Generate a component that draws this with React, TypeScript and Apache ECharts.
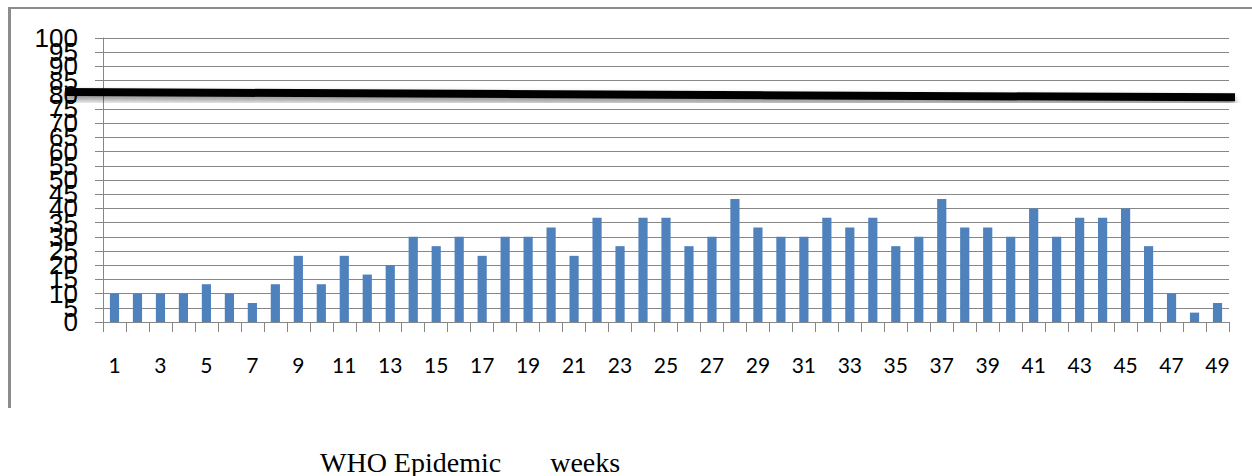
import { useEffect, useRef } from "react";
import * as echarts from "echarts";

// WHO epidemic weeks on the category axis
const weeks = [
  "1", "2", "3", "4", "5", "6", "7", "8", "9", "10",
  "11", "12", "13", "14", "15", "16", "17", "18", "19", "20",
  "21", "22", "23", "24", "25", "26", "27", "28", "29", "30",
  "31", "32", "33", "34", "35", "36", "37", "38", "39", "40",
  "41", "42", "43", "44", "45", "46", "47", "48", "49",
];

// Weekly percentage values
const weeklyValues = [
  10, 10, 10, 10, 13.3, 10, 6.7, 13.3, 23.3, 13.3,
  23.3, 16.7, 20, 30, 26.7, 30, 23.3, 30, 30, 33.3,
  23.3, 36.7, 26.7, 36.7, 36.7, 26.7, 30, 43.3, 33.3, 30,
  30, 36.7, 33.3, 36.7, 26.7, 30, 43.3, 33.3, 33.3, 30,
  40, 30, 36.7, 36.7, 40, 26.7, 10, 3.3, 6.7,
];

// Value axis range and step
const yMin = 0;
const yMax = 100;
const yStep = 5;

// Threshold line drawn across the chart: value at its left and right ends
const thresholdEnds = [81, 79.1];

const xTitle = "WHO Epidemic\u00a0\u00a0\u00a0\u00a0\u00a0\u00a0\u00a0weeks";

const GREY = "#878787";

const yLabelStyle = {
  margin: 25,
  color: "#000",
  fontSize: 26,
  fontFamily: "'Liberation Sans', Arial, sans-serif",
  hideOverlap: false,
};

export default function App() {
  const ref = useRef<HTMLDivElement>(null);

  useEffect(() => {
    if (!ref.current) return;
    const chart = echarts.init(ref.current, null, { renderer: "svg" });
    chart.setOption({
      animation: false,
      grid: { left: 103, right: 23, top: 38, bottom: 154 },
      xAxis: {
        type: "category",
        data: weeks,
        boundaryGap: true,
        axisLine: { lineStyle: { color: GREY, width: 1 } },
        axisTick: { show: true, interval: 0, length: 10, lineStyle: { color: GREY } },
        axisLabel: {
          interval: 1,
          margin: 32,
          color: "#000",
          fontSize: 21,
          fontFamily: "Lato, 'Open Sans', sans-serif",
        },
      },
      yAxis: [
        {
          // inner ticks 5..95, with grid lines
          type: "value",
          position: "left",
          min: yMin,
          max: yMax,
          interval: yStep,
          axisLine: { show: true, lineStyle: { color: GREY, width: 1 } },
          axisTick: { show: true, length: 8, lineStyle: { color: GREY } },
          splitLine: { show: true, lineStyle: { color: GREY, width: 1 } },
          axisLabel: { ...yLabelStyle, showMinLabel: false, showMaxLabel: false },
        },
        {
          // end labels 0 and 100 on the same scale
          type: "value",
          position: "left",
          offset: 0,
          min: yMin,
          max: yMax,
          interval: yMax - yMin,
          axisLine: { show: false },
          axisTick: { show: true, length: 8, lineStyle: { color: GREY } },
          splitLine: { show: false },
          axisLabel: { ...yLabelStyle, showMinLabel: true, showMaxLabel: true },
        },
      ],
      series: [
        {
          type: "bar",
          yAxisIndex: 0,
          data: weeklyValues,
          barWidth: "40%",
          itemStyle: { color: "#4F81BD" },
        },
      ],
    });

    const yLeft = chart.convertToPixel({ yAxisIndex: 0 }, thresholdEnds[0]) as number;
    const yRight = chart.convertToPixel({ yAxisIndex: 0 }, thresholdEnds[1]) as number;

    chart.setOption({
      graphic: [
        // frame around the chart area
        {
          type: "line",
          shape: { x1: 8, y1: 8, x2: 1252, y2: 8 },
          style: { stroke: "#8c8c8c", lineWidth: 2 },
        },
        {
          type: "line",
          shape: { x1: 9.5, y1: 7, x2: 9.5, y2: 408 },
          style: { stroke: "#8c8c8c", lineWidth: 3 },
        },
        // hand-drawn threshold line
        {
          type: "line",
          z: 100,
          shape: { x1: 65, y1: yLeft, x2: 1235, y2: yRight },
          style: {
            stroke: "#000",
            lineWidth: 8,
            shadowBlur: 6,
            shadowOffsetY: 4,
            shadowColor: "rgba(0,0,0,0.45)",
          },
        },
        {
          type: "text",
          x: 320,
          y: 462,
          style: {
            text: xTitle,
            fill: "#000",
            font: "28px 'Liberation Serif', 'DejaVu Serif', serif",
            verticalAlign: "middle",
            align: "left",
          },
        },
      ],
    });

    return () => chart.dispose();
  }, []);

  return (
    <div
      ref={ref}
      style={{ position: "fixed", left: 0, top: 0, width: 1252, height: 476, background: "#fff" }}
    />
  );
}
